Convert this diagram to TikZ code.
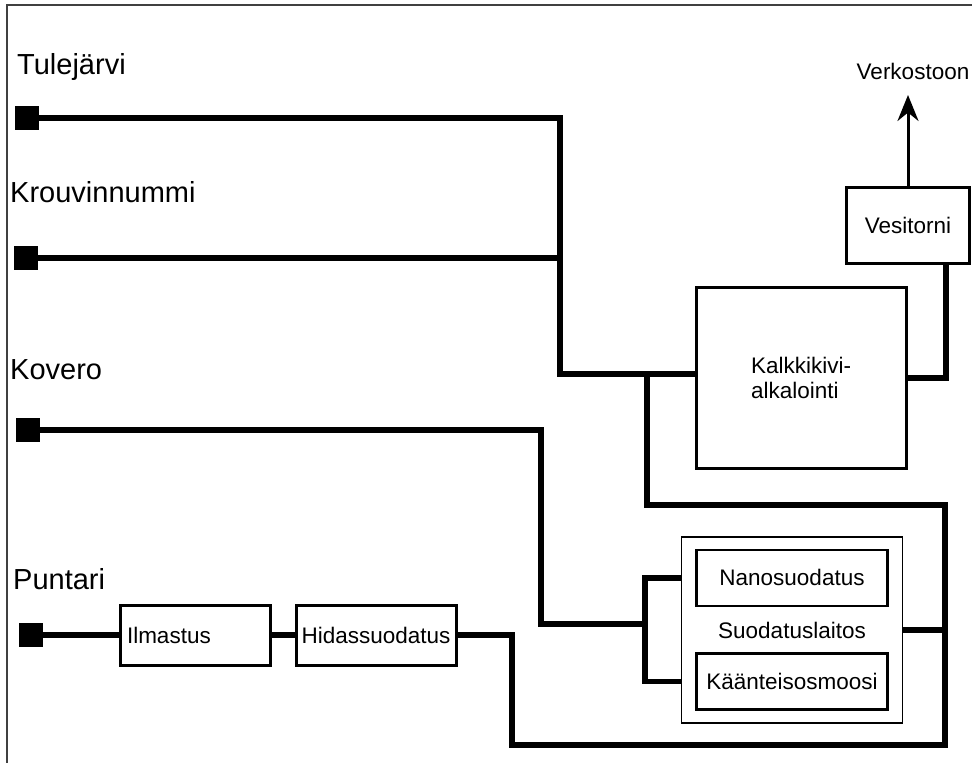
\documentclass[tikz,border=0pt]{standalone}
\usepackage{fontspec}
\setmainfont{Liberation Sans}
\usetikzlibrary{arrows.meta, positioning}

\newcommand{\sitefont}{\fontsize{29}{34}\selectfont}
\newcommand{\unitfont}{\fontsize{22.5}{25}\selectfont}

\begin{document}
\begin{tikzpicture}[
            x=1pt, y=-1pt,
            pipe/.style={line width=5.5pt},
            source/.style={fill=black, minimum width=24pt, minimum height=24pt, inner sep=0pt},
            site/.style={anchor=base west, inner sep=0pt, font=\sitefont},
            unit/.style={draw, line width=3pt, inner sep=3pt, font=\unitfont},
            >=Stealth]

        \useasboundingbox (0,0) rectangle (972,763);
        \draw[line width=2pt, black!75] (7,763) -- (7,5) -- (972,5);

        \node[site] (tuleT) at (17,74) {Tulejärvi};
        \node[site] (krouviT) at (10,202) {Krouvinnummi};
        \node[site] (koveroT) at (10,379) {Kovero};
        \node[site] (puntariT) at (13,589) {Puntari};

        \node[source] (tule) at (27,118) {};
        \node[source] (krouvi) at (26,258) {};
        \node[source] (kovero) at (28,430) {};
        \node[source] (puntari) at (31,635) {};

        \node[unit, minimum width=150pt, minimum height=60pt, text width=136pt, inner sep=7pt, align=left] (ilmastus) at (195,635) {Ilmastus};
        \node[unit, minimum width=160pt, minimum height=60pt] (hidas) at (376,635) {Hidassuodatus};
        \node[unit, minimum width=210pt, minimum height=181pt, align=left] (kalkki) at (801,378) {Kalkkikivi-\\alkalointi};
        \node[unit, minimum width=123pt, minimum height=76pt] (vesitorni) at (908,225) {Vesitorni};
        \node[unit, line width=1.5pt, minimum width=221pt, minimum height=186pt] (suodatus) at (792,630) {Suodatuslaitos};
        \node[unit, line width=2.5pt, minimum width=191pt, minimum height=56pt, above=23pt of suodatus.center] (nano) {Nanosuodatus};
        \node[unit, line width=2.5pt, minimum width=191pt, minimum height=56pt, below=22pt of suodatus.center] (kaant) {Käänteisosmoosi};
        \node[anchor=base, inner sep=0pt, font=\unitfont] (verkosto) at (913,79) {Verkostoon};

        \coordinate (kj) at (560,374);
        \coordinate (bj) at (647,374);
        \coordinate (ne) at (945,505);
        \coordinate (se) at (945,745);
        \coordinate (sw) at (512,745);
        \coordinate (kd) at (541,624);
        \coordinate (sj) at (645,624);
        \coordinate (vin) at (946,263);
        \coordinate (tip) at (908,95);

        \draw[pipe] (tule) -| (kj) -- (kj -| kalkki.west);
        \draw[pipe] (krouvi) -- (krouvi -| kj);
        \draw[pipe] (bj) |- (ne) -- (se) -- (sw) |- (hidas.east);
        \draw[pipe] (suodatus.east) -- (suodatus.east -| ne);
        \draw[pipe] (kovero) -| (kd) -- (sj);
        \draw[pipe] (nano -| suodatus.west) -| (sj) |- (kaant -| suodatus.west);
        \draw[pipe] (puntari) -- (ilmastus);
        \draw[pipe] (ilmastus) -- (hidas);
        \draw[pipe] (kalkki.east) -| (vin);
        \draw[->, line width=3pt, arrows={-Stealth[length=26pt, width=21pt]}] (vesitorni.north) -- (vesitorni.north |- tip);

    \end{tikzpicture}
\end{document}
